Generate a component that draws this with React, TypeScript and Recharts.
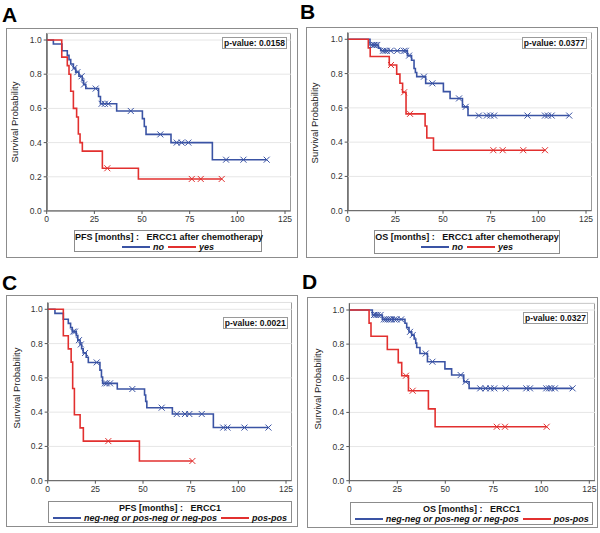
import React from "react";
import { ComposedChart, Line, XAxis, YAxis, CartesianGrid } from "recharts";

// Panel A: PFS, ERCC1 after chemotherapy
const aNoTimes = [3.5, 8, 10.8, 11.7, 12.6, 14, 15.2, 16.9, 18.6, 19.4, 20.5, 27.2, 28.2, 36.7, 50.2, 51.2, 52.1, 65.2, 86.9];
const aNoSurv = [0.977, 0.937, 0.91, 0.885, 0.86, 0.836, 0.812, 0.788, 0.764, 0.74, 0.716, 0.67, 0.627, 0.585, 0.54, 0.494, 0.448, 0.4, 0.3];
const aNoCens = [14.5, 16.1, 18.3, 19.6, 25.7, 28.8, 30.5, 32.3, 44.1, 59.6, 68.2, 70.8, 74.3, 94.1, 103.2, 115.4];
const aYesTimes = [7.9, 10.8, 11.7, 12.6, 14.0, 15.7, 16.6, 17.5, 18.7, 29.2, 48.1];
const aYesSurv = [0.9, 0.85, 0.8, 0.7, 0.6, 0.55, 0.45, 0.4, 0.35, 0.25, 0.1875];
const aYesCens = [31.8, 76.1, 80.8, 91.8];

// Panel B: OS, ERCC1 after chemotherapy
const bNoTimes = [11.7, 16.1, 17.3, 31.3, 33.5, 34.8, 35.5, 36.2, 40.9, 50.2, 53.7, 60.2, 63.1];
const bNoSurv = [0.967, 0.948, 0.933, 0.905, 0.878, 0.83, 0.806, 0.782, 0.743, 0.695, 0.655, 0.606, 0.555];
const bNoCens = [12.9, 13.8, 14.6, 15.5, 18.5, 19.5, 20.5, 22.5, 26, 29.5, 30.5, 32.2, 40, 44.4, 58.4, 61.9, 68.8, 73, 74.8, 76.8, 94.3, 103.5, 105, 107, 116.2];
const bYesTimes = [10.8, 11.8, 21.8, 25.7, 27.4, 28.8, 30.6, 40.6, 41.5, 45];
const bYesSurv = [0.95, 0.9, 0.85, 0.797, 0.744, 0.691, 0.565, 0.494, 0.424, 0.353];
const bYesCens = [22.7, 29.6, 32.7, 76.4, 81.3, 92.1, 103.5];

// Panel C: PFS, ERCC1
const cNoTimes = [3.8, 8.2, 10.8, 12, 12.9, 15, 15.8, 17, 17.8, 18.6, 20.2, 21.3, 27.4, 28.2, 28.8, 36.5, 50.8, 51.4, 52, 65.4, 86.9];
const cNoSurv = [0.976, 0.942, 0.918, 0.894, 0.87, 0.846, 0.82, 0.795, 0.77, 0.745, 0.72, 0.69, 0.645, 0.605, 0.568, 0.535, 0.5, 0.463, 0.426, 0.389, 0.31];
const cNoCens = [13.4, 14.3, 16.4, 17.4, 19.6, 25.7, 30, 31, 32.7, 44.4, 59.8, 67.7, 72, 74.3, 80.8, 92.1, 94.3, 103.2, 115.8];
const cYesTimes = [8.2, 10.8, 12.3, 13.1, 14, 17, 18.7, 48.1];
const cYesSurv = [0.846, 0.769, 0.692, 0.538, 0.385, 0.308, 0.231, 0.115];
const cYesCens = [31.8, 75.9];

// Panel D: OS, ERCC1
const dNoTimes = [12, 17.2, 29, 29.9, 31.1, 32.5, 33.8, 34.6, 35.1, 36.8, 40.7, 49.8, 53.3, 59.6, 62.4];
const dNoSurv = [0.971, 0.945, 0.922, 0.897, 0.872, 0.853, 0.83, 0.806, 0.78, 0.745, 0.697, 0.655, 0.619, 0.58, 0.541];
const dNoCens = [12.9, 13.8, 14.8, 16.3, 18, 19, 20, 21, 22, 23.5, 24.6, 27, 31.6, 33, 39.8, 43.3, 58, 60.6, 68.2, 71, 73.5, 75.5, 81.4, 92.2, 94.1, 102.6, 104, 105.2, 107.1, 116.3];
const dYesTimes = [10.3, 11.3, 19.8, 25.5, 27.3, 30.8, 41.2, 44.7];
const dYesSurv = [0.923, 0.846, 0.769, 0.692, 0.615, 0.527, 0.421, 0.316];
const dYesCens = [29.5, 33, 76.8, 81.1, 102.8];

const xTicks = [0, 25, 50, 75, 100, 125];
const yTicks = [0, 0.2, 0.4, 0.6, 0.8, 1.0];

const BLUE = "#3a53a4";
const RED = "#e2302f";
const FONT = "'Liberation Sans', Arial, sans-serif";

type Pt = { t: number; s: number; c: boolean };

function km(times: number[], surv: number[], cens: number[]): Pt[] {
  const pts: Pt[] = [{ t: 0, s: 1, c: false }];
  times.forEach((t, i) => pts.push({ t, s: surv[i], c: false }));
  cens.forEach((t) => {
    let s = 1;
    times.forEach((et, i) => {
      if (et <= t) s = surv[i];
    });
    pts.push({ t, s, c: true });
  });
  return pts.sort((a, b) => a.t - b.t);
}

const cross = (color: string) => (props: any) => {
  const { cx, cy, payload, index } = props;
  if (!payload || !payload.c) return <g key={index} />;
  const r = 3;
  return (
    <g key={index} stroke={color} strokeWidth={1}>
      <line x1={cx - r} y1={cy - r} x2={cx + r} y2={cy + r} />
      <line x1={cx - r} y1={cy + r} x2={cx + r} y2={cy - r} />
    </g>
  );
};

const panels = [
  {
    letter: "A", lx: 2, ly: 4, ox: 0, oy: 0,
    box: [6, 28, 292, 230], x0: 46.7, x125: 285, y1: 40, y0: 211,
    p: "p-value: 0.0158", pBox: [221.7, 36.7, 65.6, 12.6],
    label: [15, 122],
    legTitle: "PFS [months] :   ERCC1 after chemotherapy",
    legNames: ["no", "yes"], leg: [74, 230, 188, 22],
    blue: km(aNoTimes, aNoSurv, aNoCens), red: km(aYesTimes, aYesSurv, aYesCens),
  },
  {
    letter: "B", lx: 300, ly: 0.5, ox: 300, oy: 0,
    box: [306, 27, 292, 231], x0: 347.7, x125: 586, y1: 39.3, y0: 210.7,
    p: "p-value: 0.0377", pBox: [521.7, 36.7, 65, 12.6],
    label: [315, 122.5],
    legTitle: "OS [months] :   ERCC1 after chemotherapy",
    legNames: ["no", "yes"], leg: [374, 230, 186, 24],
    blue: km(bNoTimes, bNoSurv, bNoCens), red: km(bYesTimes, bYesSurv, bYesCens),
  },
  {
    letter: "C", lx: 2, ly: 272, ox: 0, oy: 260,
    box: [6, 295, 292, 232], x0: 47.7, x125: 286, y1: 309.3, y0: 480.7,
    p: "p-value: 0.0021", pBox: [222.7, 316.7, 65, 12.5],
    label: [16.7, 388],
    legTitle: "PFS [months] :   ERCC1",
    legNames: ["neg-neg or pos-neg or neg-pos", "pos-pos"], leg: [48, 500.7, 244, 22.6],
    blue: km(cNoTimes, cNoSurv, cNoCens), red: km(cYesTimes, cYesSurv, cYesCens),
  },
  {
    letter: "D", lx: 302, ly: 270.5, ox: 300, oy: 260,
    box: [307, 297, 291, 231], x0: 349.3, x125: 589.3, y1: 310, y0: 480.7,
    p: "p-value: 0.0327", pBox: [522.7, 311.5, 65.6, 12.5],
    label: [318.3, 389],
    legTitle: "OS [months] :   ERCC1",
    legNames: ["neg-neg or pos-neg or neg-pos", "pos-pos"], leg: [350, 502.3, 243.3, 22.7],
    blue: km(dNoTimes, dNoSurv, dNoCens), red: km(dYesTimes, dYesSurv, dYesCens),
  },
];

const CW = 300;
const CH = 270;
const YW = 36;
const XH = 20;

function Panel({ p }: { p: (typeof panels)[number] }) {
  const xRight = p.x0 + (128 * (p.x125 - p.x0)) / 125;
  const yTop = p.y0 - 1.04 * (p.y0 - p.y1);
  const margin = {
    left: p.x0 - p.ox - YW,
    right: p.ox + CW - xRight,
    top: yTop - p.oy,
    bottom: p.oy + CH - p.y0 - XH,
  };
  const [bx, by, bw, bh] = p.box;
  const [px, py, pw, ph] = p.pBox;
  const [lx, ly, lw, lh] = p.leg;
  return (
    <>
      <div style={{ position: "absolute", left: bx, top: by, width: bw, height: bh, border: "1px solid #8c8c8c", boxSizing: "border-box" }} />
      <div style={{ position: "absolute", left: p.lx, top: p.ly, fontSize: 21, lineHeight: "21px", fontWeight: 700, fontFamily: FONT, color: "#000" }}>
        {p.letter}
      </div>
      <div style={{ position: "absolute", left: p.x0, top: yTop, width: xRight - p.x0, height: p.y0 - yTop, border: "1px solid #9a9a9a", boxSizing: "border-box" }} />
      <div style={{ position: "absolute", left: p.ox, top: p.oy }}>
        <ComposedChart width={CW} height={CH} margin={margin}>
          <CartesianGrid horizontal vertical={false} stroke="#e6e6e6" />
          <XAxis
            type="number"
            dataKey="t"
            domain={[0, 128]}
            ticks={xTicks}
            allowDataOverflow
            height={XH}
            tickSize={3}
            tickMargin={2}
            stroke="#555"
            tick={{ fontSize: 8.5, fill: "#333", fontFamily: FONT }}
          />
          <YAxis
            type="number"
            domain={[0, 1.04]}
            ticks={yTicks}
            allowDataOverflow
            width={YW}
            tickSize={3}
            tickMargin={2}
            stroke="#555"
            tickFormatter={(v: number) => v.toFixed(1)}
            tick={{ fontSize: 8.5, fill: "#333", fontFamily: FONT }}
          />
          <Line
            data={p.blue}
            dataKey="s"
            type="stepAfter"
            stroke={BLUE}
            strokeWidth={1.6}
            dot={cross(BLUE)}
            activeDot={false}
            isAnimationActive={false}
          />
          <Line
            data={p.red}
            dataKey="s"
            type="stepAfter"
            stroke={RED}
            strokeWidth={1.6}
            dot={cross(RED)}
            activeDot={false}
            isAnimationActive={false}
          />
        </ComposedChart>
      </div>
      <div style={{ position: "absolute", left: px, top: py, width: pw, height: ph, border: "1px solid #9a9a9a", background: "#fff", boxSizing: "border-box", fontFamily: FONT, fontWeight: 700, fontSize: 8.5, lineHeight: `${ph - 2}px`, textAlign: "center", color: "#111" }}>
        {p.p}
      </div>
      <div style={{ position: "absolute", left: p.label[0] - 60, top: p.label[1] - 6, width: 120, height: 12, transform: "rotate(-90deg)", textAlign: "center", fontFamily: FONT, fontSize: 9.5, lineHeight: "12px", color: "#222" }}>
        Survival Probability
      </div>
      <div style={{ position: "absolute", left: lx, top: ly, width: lw, height: lh, border: "1px solid #8c8c8c", boxSizing: "border-box", fontFamily: FONT, fontWeight: 700, fontSize: 9, color: "#111", textAlign: "center" }}>
        <div style={{ lineHeight: "10px", marginTop: 1, whiteSpace: "pre" }}>{p.legTitle}</div>
        <div style={{ display: "flex", justifyContent: "center", alignItems: "center", height: 10, fontStyle: "italic" }}>
          <span style={{ display: "inline-block", width: 28, height: 2, background: BLUE, marginRight: 3 }} />
          <span style={{ marginRight: 4 }}>{p.legNames[0]}</span>
          <span style={{ display: "inline-block", width: 28, height: 2, background: RED, marginRight: 3 }} />
          <span>{p.legNames[1]}</span>
        </div>
      </div>
    </>
  );
}

export default function App() {
  return (
    <div style={{ position: "absolute", left: 0, top: 0, width: 600, height: 533, background: "#fff", overflow: "hidden" }}>
      {panels.map((p) => (
        <Panel key={p.letter} p={p} />
      ))}
    </div>
  );
}
